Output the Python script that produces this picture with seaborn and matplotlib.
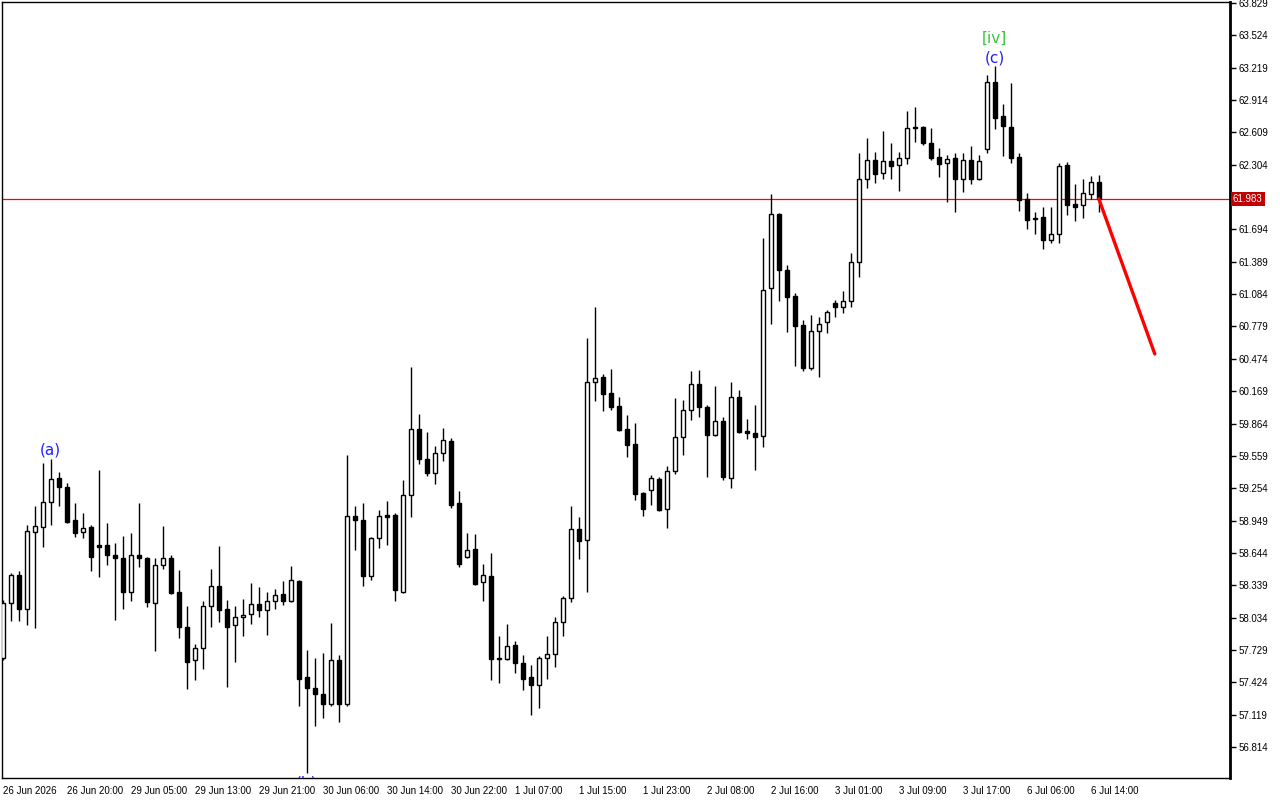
import numpy as np
import pandas as pd
import matplotlib
matplotlib.use("Agg")
import matplotlib.pyplot as plt
import seaborn as sns

time_labels = ["26 Jun 2026", "26 Jun 20:00", "29 Jun 05:00", "29 Jun 13:00", "29 Jun 21:00",
               "30 Jun 06:00", "30 Jun 14:00", "30 Jun 22:00", "1 Jul 07:00", "1 Jul 15:00",
               "1 Jul 23:00", "2 Jul 08:00", "2 Jul 16:00", "3 Jul 01:00", "3 Jul 09:00",
               "3 Jul 17:00", "6 Jul 06:00", "6 Jul 14:00"]

opens = [57.65, 58.17, 58.44, 58.12, 58.84, 58.89, 59.12, 59.35, 59.27, 58.95,
         58.84, 58.89, 58.72, 58.72, 58.62, 58.60, 58.28, 58.62, 58.60, 58.17,
         58.53, 58.60, 58.28, 57.95, 57.63, 57.75, 58.14, 58.33, 58.12, 57.96,
         58.04, 58.07, 58.16, 58.11, 58.19, 58.26, 58.19, 58.38, 57.47, 57.37,
         57.31, 57.22, 57.63, 57.22, 58.99, 58.95, 58.43, 58.78, 59.00, 59.00,
         58.28, 59.19, 59.81, 59.53, 59.40, 59.59, 59.70, 59.11, 58.61, 58.68,
         58.37, 58.43, 57.65, 57.64, 57.78, 57.61, 57.47, 57.40, 57.65, 57.69,
         57.99, 58.22, 58.87, 58.77, 60.26, 60.30, 60.15, 60.03, 59.81, 59.67,
         59.21, 59.24, 59.34, 59.06, 59.42, 59.74, 59.99, 60.24, 60.02, 59.76,
         59.89, 59.35, 60.11, 59.79, 59.77, 59.75, 61.14, 61.84, 61.31, 61.07,
         60.79, 60.39, 60.74, 60.82, 61.00, 60.96, 61.02, 61.39, 62.17, 62.35,
         62.23, 62.34, 62.30, 62.37, 62.66, 62.66, 62.51, 62.38, 62.32, 62.37,
         62.17, 62.35, 62.17, 62.45, 63.08, 62.76, 62.66, 62.38, 61.98, 61.79,
         61.81, 61.59, 61.65, 62.30, 61.93, 61.92, 62.03, 62.14]

highs = [58.20, 58.45, 58.47, 58.91, 59.09, 59.49, 59.53, 59.41, 59.30, 59.11,
         59.02, 58.91, 59.43, 58.93, 58.74, 58.80, 58.83, 59.11, 58.61, 58.60,
         58.90, 58.62, 58.48, 58.14, 57.79, 58.19, 58.49, 58.71, 58.20, 58.14,
         58.21, 58.36, 58.32, 58.28, 58.30, 58.38, 58.52, 58.39, 57.73, 57.65,
         57.70, 57.98, 57.68, 59.57, 59.09, 59.11, 58.79, 59.05, 59.13, 59.02,
         59.33, 60.40, 59.95, 59.78, 59.65, 59.82, 59.73, 59.23, 58.83, 58.82,
         58.54, 58.64, 57.86, 57.97, 57.81, 57.68, 57.59, 57.67, 57.86, 58.04,
         58.24, 59.09, 58.98, 60.67, 60.96, 60.33, 60.38, 60.11, 59.94, 59.87,
         59.22, 59.38, 59.36, 59.46, 60.10, 60.09, 60.36, 60.37, 60.04, 60.22,
         59.93, 60.26, 60.18, 59.91, 60.04, 61.61, 62.03, 61.85, 61.36, 61.09,
         60.84, 60.89, 60.87, 60.93, 61.03, 61.11, 61.47, 62.41, 62.56, 62.42,
         62.62, 62.51, 62.42, 62.81, 62.85, 62.67, 62.65, 62.46, 62.40, 62.41,
         62.41, 62.48, 62.40, 63.15, 63.23, 62.88, 63.07, 62.41, 62.04, 61.86,
         61.91, 61.91, 62.32, 62.33, 62.12, 62.17, 62.20, 62.21]

lows = [57.63, 58.00, 58.00, 57.96, 57.94, 58.70, 58.91, 59.09, 58.93, 58.79,
        58.78, 58.47, 58.42, 58.53, 58.01, 58.12, 58.19, 58.51, 58.13, 57.72,
        58.49, 58.26, 57.84, 57.36, 57.45, 57.55, 57.95, 57.99, 57.38, 57.62,
        57.86, 57.97, 58.04, 57.87, 58.12, 58.15, 58.18, 57.20, 56.57, 57.01,
        57.09, 57.20, 57.05, 57.20, 58.67, 58.33, 58.39, 58.69, 58.72, 58.19,
        58.27, 58.98, 59.48, 59.37, 59.29, 59.51, 59.07, 58.51, 58.60, 58.34,
        58.19, 57.45, 57.42, 57.63, 57.51, 57.35, 57.12, 57.18, 57.46, 57.57,
        57.86, 58.18, 58.59, 58.28, 60.08, 59.98, 59.99, 59.79, 59.55, 59.14,
        58.99, 59.10, 59.04, 58.88, 59.39, 59.57, 59.90, 59.93, 59.36, 59.75,
        59.33, 59.26, 59.77, 59.72, 59.43, 59.64, 60.80, 61.02, 60.73, 60.41,
        60.36, 60.37, 60.30, 60.72, 60.87, 60.91, 60.96, 61.25, 62.08, 62.13,
        62.17, 62.17, 62.06, 62.31, 62.52, 62.49, 62.35, 62.19, 61.95, 61.86,
        62.05, 62.12, 62.16, 62.41, 62.64, 62.39, 62.32, 61.87, 61.70, 61.65,
        61.51, 61.57, 61.57, 61.83, 61.77, 61.80, 61.98, 61.86]

closes = [58.17, 58.44, 58.12, 58.85, 58.90, 59.12, 59.34, 59.27, 58.94, 58.83,
          58.88, 58.61, 58.70, 58.62, 58.60, 58.28, 58.62, 58.60, 58.18, 58.53,
          58.60, 58.27, 57.95, 57.62, 57.75, 58.14, 58.33, 58.11, 57.95, 58.04,
          58.06, 58.16, 58.11, 58.19, 58.25, 58.19, 58.39, 57.46, 57.37, 57.31,
          57.22, 57.63, 57.22, 58.99, 58.95, 58.43, 58.78, 58.99, 58.98, 58.29,
          59.19, 59.81, 59.53, 59.40, 59.59, 59.71, 59.10, 58.54, 58.67, 58.35,
          58.44, 57.64, 57.64, 57.77, 57.61, 57.46, 57.40, 57.65, 57.69, 57.99,
          58.22, 58.87, 58.76, 60.26, 60.29, 60.14, 60.02, 59.80, 59.66, 59.20,
          59.06, 59.35, 59.05, 59.42, 59.74, 59.99, 60.24, 60.02, 59.76, 59.89,
          59.36, 60.11, 59.78, 59.77, 59.74, 61.12, 61.84, 61.31, 61.06, 60.78,
          60.39, 60.74, 60.80, 60.92, 60.96, 61.02, 61.39, 62.17, 62.35, 62.22,
          62.34, 62.29, 62.37, 62.65, 62.65, 62.51, 62.37, 62.31, 62.36, 62.17,
          62.35, 62.17, 62.34, 63.08, 62.74, 62.67, 62.37, 61.97, 61.78, 61.80,
          61.59, 61.65, 62.29, 61.92, 61.91, 62.04, 62.14, 61.983]

current_price = 61.983
proj_x = [137, 144]
proj_y = [61.983, 60.52]

price_ticks = [56.814, 57.119, 57.424, 57.729, 58.034, 58.339, 58.644, 58.949, 59.254,
               59.559, 59.864, 60.169, 60.474, 60.779, 61.084, 61.389, 61.694, 61.999,
               62.304, 62.609, 62.914, 63.219, 63.524, 63.829]

wave_labels = ["(a)", "(b)", "(c)", "[iv]"]
wave_x = [6, 38, 124, 124]
wave_y = [59.61, 56.55, 63.31, 63.50]
wave_colors = ["#2020ff", "#2020ff", "#2020ff", "#3cc43c"]

sns.set_style("white")
plt.rcParams['font.family'] = ['Liberation Sans', 'DejaVu Sans']

df = pd.DataFrame({"open": opens, "high": highs, "low": lows, "close": closes})
df["idx"] = np.arange(len(df))
df["up"] = df["close"] >= df["open"]

fig = plt.figure(figsize=(12.8, 8), dpi=100)
ax = fig.add_axes([2 / 1280, 22 / 800, 1228 / 1280, 776 / 800])

ax.axhline(current_price, color="#ff0000", lw=0.9, zorder=1)
ax.vlines(df["idx"], df["low"], df["high"], color="black", linewidth=1, zorder=2)
ax.bar(df["idx"], (df["close"] - df["open"]).abs(), bottom=df[["open", "close"]].min(axis=1),
       width=0.55, color=np.where(df["up"], "white", "black"), edgecolor="black",
       linewidth=1, zorder=3)

sns.lineplot(x=proj_x, y=proj_y, ax=ax, color="#ff0000", linewidth=2.4, zorder=4,
             sort=False)

for lab, x, y, col in zip(wave_labels, wave_x, wave_y, wave_colors):
    va = "top" if lab == "(b)" else "center"
    ax.text(x, y, lab, color=col, fontsize=11, ha="center", va=va, zorder=5,
            family="DejaVu Sans", clip_on=True)

ax.set_xlim(-0.1, 153.4)
ax.set_ylim(56.522, 63.838)

ax.yaxis.tick_right()
ax.set_yticks(price_ticks)
ax.set_yticklabels(["" if abs(t - 61.999) < 1e-6 else f"{t:.3f}" for t in price_ticks])
ax.tick_params(axis="y", direction="out", length=4, width=1, labelsize=7, pad=2,
               colors="black")
ax.set_xticks(np.arange(0, 8 * len(time_labels), 8))
ax.set_xticklabels(time_labels, ha="left")
ax.tick_params(axis="x", direction="out", length=4, width=1, labelsize=7, pad=2,
               colors="black")
ax.set_xlabel("")
ax.set_ylabel("")

for s in ax.spines.values():
    s.set_color("black")
    s.set_linewidth(1)
ax.spines["right"].set_linewidth(2)

ax.text(1 + 3 / 1228, current_price, f"{current_price:.3f}", transform=ax.get_yaxis_transform(),
        color="white", fontsize=7, ha="left", va="center",
        bbox=dict(facecolor="#c00000", edgecolor="none", pad=1.5), zorder=6)

fig.savefig("out.png", dpi=100)
